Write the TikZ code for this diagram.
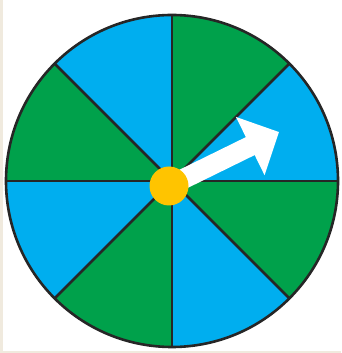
\documentclass[tikz,border=0pt]{standalone}
\usepackage{tikz}
\usetikzlibrary{arrows.meta}
\definecolor{spinblue}{RGB}{0,174,239}
\definecolor{spingreen}{RGB}{0,161,75}
\definecolor{hubyellow}{RGB}{255,196,0}
\definecolor{paper}{RGB}{240,234,222}

\begin{document}
\begin{tikzpicture}[x=1pt,y=1pt,
    spoke/.style={line width=2.6pt, black!85}]
    \useasboundingbox (0,0) rectangle (341,353);
    % page edge
    \fill[paper] (0,0) rectangle (2.5,353);
    \fill[paper] (0,0) rectangle (341,2);
    \coordinate (centre) at (172,172);
    % eight sectors
    \foreach \a/\col in {0/spinblue,45/spingreen,90/spinblue,135/spingreen,180/spinblue,225/spingreen,270/spinblue,315/spingreen}
        \fill[\col] (centre) -- ++(\a:166) arc[start angle=\a, end angle=\a+45, radius=166] -- cycle;
    \foreach \a in {0,45,...,315}
        \draw[spoke] (centre) -- ++(\a:166);
    \draw[spoke] (centre) circle (166);
    % pointer
    \coordinate (hubc) at (169,167);
    \coordinate (tip) at (279,221);
    \draw[white, line width=20pt, -{Triangle[length=32pt,width=63pt]}] (hubc) -- (tip);
    \node[circle, fill=hubyellow, minimum size=39pt, inner sep=0pt] (hub) at (hubc) {};
\end{tikzpicture}
\end{document}
